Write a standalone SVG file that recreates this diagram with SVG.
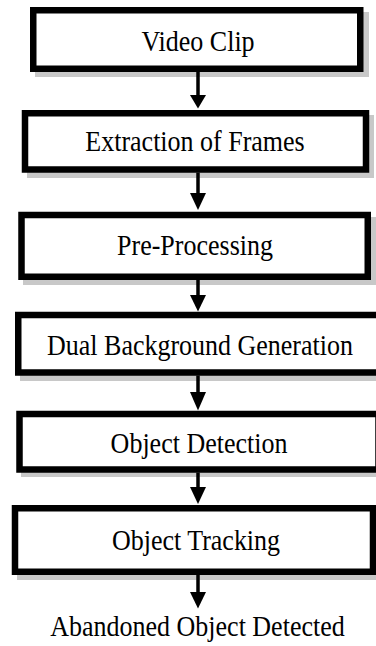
<svg xmlns="http://www.w3.org/2000/svg" width="376" height="646" viewBox="0 0 376 646">
<defs>
<style>
.box{fill:#fff;stroke:#000;stroke-width:6.5}
.shadow{fill:#c8c8c8}
.lbl{font-family:"Liberation Serif","Times New Roman",serif;font-size:26px;fill:#000;text-anchor:middle}
.edge{stroke:#000;stroke-width:3.5;fill:none}
.head{fill:#000}
</style>
</defs>
<rect width="376" height="646" fill="#fff"/>
<g id="node-video-clip">
<rect class="shadow" x="35" y="12" width="334" height="65"/>
<rect class="box" x="33.25" y="10.25" width="327" height="58.5"/>
<text class="lbl" transform="translate(198 51) scale(1 1.15)">Video Clip</text>
</g>
<g id="node-extraction">
<rect class="shadow" x="27" y="115" width="347" height="63"/>
<rect class="box" x="25" y="113.25" width="341" height="56.25"/>
<text class="lbl" transform="translate(195 151) scale(1 1.15)">Extraction of Frames</text>
</g>
<g id="node-preprocessing">
<rect class="shadow" x="23" y="217" width="353" height="68"/>
<rect class="box" x="21.5" y="215" width="346.25" height="61.75"/>
<text class="lbl" transform="translate(195 255) scale(1 1.15)">Pre-Processing</text>
</g>
<g id="node-dual-background">
<rect class="shadow" x="20" y="317" width="370" height="64"/>
<rect class="box" x="18.25" y="315" width="366" height="57.5"/>
<text class="lbl" transform="translate(200 355) scale(1 1.15)">Dual Background Generation</text>
</g>
<g id="node-object-detection">
<rect class="shadow" x="21" y="416" width="370" height="61"/>
<rect class="box" x="19.5" y="414" width="359" height="55.5"/>
<text class="lbl" transform="translate(199 453) scale(1 1.15)">Object Detection</text>
</g>
<g id="node-object-tracking">
<rect class="shadow" x="17" y="510" width="370" height="70"/>
<rect class="box" x="15" y="508.25" width="358" height="63.5"/>
<text class="lbl" transform="translate(196 550) scale(1 1.15)">Object Tracking</text>
</g>
<g id="node-abandoned">
<text class="lbl" transform="translate(197.5 636) scale(1 1.15)">Abandoned Object Detected</text>
</g>
<g id="connectors">
<line class="edge" x1="198" y1="72" x2="198" y2="96"/>
<polygon class="head" points="190,95 206,95 198,108.5"/>
<line class="edge" x1="198" y1="172.5" x2="198" y2="194"/>
<polygon class="head" points="190,193 206,193 198,210"/>
<line class="edge" x1="198" y1="280" x2="198" y2="296"/>
<polygon class="head" points="190,295 206,295 198,311.5"/>
<line class="edge" x1="198" y1="375.5" x2="198" y2="393"/>
<polygon class="head" points="190,392 206,392 198,410.5"/>
<line class="edge" x1="198" y1="472.5" x2="198" y2="488"/>
<polygon class="head" points="190,487 206,487 198,504"/>
<line class="edge" x1="198" y1="575" x2="198" y2="593"/>
<polygon class="head" points="190,592 206,592 198,608.5"/>
</g>
</svg>
